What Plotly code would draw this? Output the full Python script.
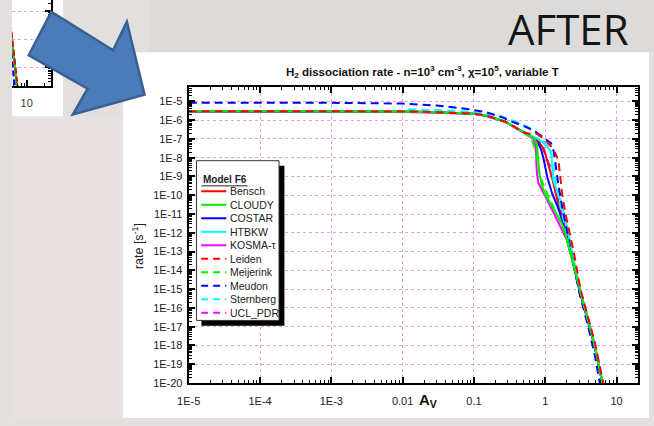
import plotly.graph_objects as go

W, H = 654, 426

# ---------------------------------------------------------------------------
# Data: H2 dissociation rate [s^-1] versus visual extinction A_V
# ---------------------------------------------------------------------------
models = ["Bensch", "CLOUDY", "COSTAR", "HTBKW", "KOSMA-τ",
          "Leiden", "Meijerink", "Meudon", "Sternberg", "UCL_PDR"]
colors = ["#ff0000", "#00ee00", "#0000ff", "#00ffff", "#ff00ff",
          "#ff0000", "#00ee00", "#0000ff", "#00ffff", "#ff00ff"]
dashed = [False, False, False, False, False, True, True, True, True, True]
# stacking order of the curves (last one on top)
draw_order = ["UCL_PDR", "KOSMA-τ", "Bensch", "COSTAR", "HTBKW", "Sternberg",
              "Meudon", "CLOUDY", "Meijerink", "Leiden"]

# unshielded plateau shared by most codes
plateau_av = [1e-5, 1e-4, 1e-3, 0.01, 0.03, 0.06, 0.1, 0.15, 0.2, 0.27, 0.34, 0.42, 0.5]
plateau_rate = [3.0e-6, 3.0e-6, 3.0e-6, 2.9e-6, 2.65e-6, 2.45e-6, 2.2e-6, 1.7e-6,
                1.25e-6, 8.5e-7, 5.2e-7, 3.3e-7, 2.2e-7]
kosma_plateau_rate = [2.75e-6, 2.75e-6, 2.75e-6, 2.7e-6, 2.5e-6, 2.35e-6, 2.1e-6, 1.65e-6,
                      1.2e-6, 8.2e-7, 5.0e-7, 3.2e-7, 2.1e-7]

bensch_av = [0.6, 0.7, 0.8, 0.9, 1.0, 1.1, 1.25, 1.4, 1.6, 1.8, 2.2, 3.0, 4.0, 4.9, 6.4, 7.0]
bensch_rate = [1.5e-7, 1.12e-7, 7.1e-8, 4.0e-8, 1.6e-8, 5.0e-9, 7.9e-10, 1.26e-10, 1.6e-11,
               2.2e-12, 1.1e-13, 1.0e-15, 2.0e-17, 1.0e-18, 8e-21, 1.3e-21]

cloudy_av = [0.6, 0.7, 0.76, 0.79, 0.83, 0.9, 1.0, 1.2, 1.5, 1.8, 2.2, 3.0, 4.0, 4.9, 6.4, 7.0]
cloudy_rate = [1.5e-7, 1.07e-7, 5.6e-8, 1.0e-8, 1.26e-9, 3.2e-10, 1.1e-10, 3.2e-11, 7.9e-12,
               2.0e-12, 1.1e-13, 1.1e-15, 2.2e-17, 1.1e-18, 8.9e-21, 1.4e-21]

costar_av = [0.6, 0.7, 0.8, 0.88, 0.95, 1.07, 1.25, 1.45, 1.65, 1.9, 2.3, 3.0, 4.0, 4.9, 6.4, 7.0]
costar_rate = [1.5e-7, 1.07e-7, 5.6e-8, 2.5e-8, 7.9e-9, 8.7e-10, 1.2e-10, 3.2e-11, 7.9e-12,
               1.26e-12, 7.9e-14, 8.9e-16, 1.8e-17, 1.0e-18, 8e-21, 1.3e-21]

htbkw_av = [0.6, 0.75, 0.9, 1.05, 1.2, 1.24, 1.3, 1.5, 1.69, 1.9, 2.2, 2.6, 3.2, 4.0, 5.0, 6.5, 7.0]
htbkw_rate = [1.6e-7, 1.12e-7, 7.1e-8, 4.0e-8, 2.2e-8, 5.0e-9, 6.3e-10, 1.26e-10, 3.5e-11,
              6.3e-12, 5.0e-13, 2.0e-14, 4.5e-16, 2.5e-17, 8.9e-19, 7.9e-21, 1.6e-21]

kosma_av = [0.6, 0.68, 0.72, 0.74, 0.76, 0.8, 0.87, 1.0, 1.32, 1.65, 2.0, 2.4, 3.0, 4.0, 4.9, 6.4, 7.0]
kosma_rate = [1.4e-7, 1.0e-7, 5.0e-8, 2.0e-8, 1.6e-9, 4.5e-10, 2.5e-10, 8.9e-11, 1.1e-11,
              1.9e-12, 4.2e-13, 4.0e-14, 1.1e-15, 2.2e-17, 1.1e-18, 8.9e-21, 1.4e-21]

leiden_av = [0.6, 0.78, 1.0, 1.2, 1.4, 1.53, 1.62, 1.72, 1.9, 2.09, 2.5, 3.1, 4.0, 5.0, 6.5, 7.0]
leiden_rate = [1.9e-7, 1.8e-7, 8.9e-8, 4.0e-8, 1.6e-8, 6.8e-9, 1.0e-9, 1.2e-10, 1.26e-11,
               2.1e-12, 1.0e-13, 1.1e-15, 2.8e-17, 1.26e-18, 1.0e-20, 2.0e-21]

meijerink_av = [0.55, 0.63, 0.7, 0.76, 0.85, 0.97, 1.2, 1.4, 1.7, 2.0, 2.4, 3.0, 4.0, 4.9, 6.4, 7.0]
meijerink_rate = [1.6e-7, 1.1e-7, 4.0e-8, 6.8e-9, 1.0e-9, 2.6e-10, 5.0e-11, 1.26e-11, 2.8e-12,
                  6.3e-13, 5.0e-14, 1.1e-15, 2.2e-17, 1.1e-18, 8.9e-21, 1.4e-21]

meudon_av = [1e-5, 1e-4, 1e-3, 0.01, 0.03, 0.085, 0.15, 0.25, 0.34, 0.5, 0.66, 0.85, 1.0,
             1.2, 1.32, 1.42, 1.55, 1.7, 2.0, 2.5, 3.0, 4.0, 5.0, 5.8, 6.4]
meudon_rate = [8.5e-6, 8.5e-6, 8.3e-6, 7.6e-6, 6.0e-6, 3.8e-6, 2.6e-6, 1.4e-6, 8.3e-7, 4.8e-7,
               3.0e-7, 1.6e-7, 1.0e-7, 6.0e-8, 2.0e-8, 2.5e-9, 2.5e-10, 3.2e-11, 1.26e-12,
               2.0e-14, 6.3e-16, 1.0e-17, 2.5e-19, 1.0e-20, 1.0e-21]

sternberg_av = [0.012, 0.03, 0.05, 0.085, 0.15, 0.22, 0.4, 0.55, 0.7, 0.87, 1.05, 1.19, 1.3,
                1.45, 1.6, 1.8, 2.2, 2.8, 3.5, 4.5, 5.5, 6.5, 7.0]
sternberg_rate = [3.8e-6, 3.6e-6, 3.2e-6, 2.8e-6, 2.2e-6, 1.8e-6, 7.9e-7, 4.8e-7, 3.0e-7,
                  1.1e-7, 5.0e-8, 2.7e-8, 4.0e-9, 2.5e-10, 3.2e-11, 5.0e-12, 1.8e-13, 3.2e-15,
                  1.26e-16, 4.0e-18, 1.6e-19, 7.9e-21, 1.6e-21]

ucl_av = [0.6, 0.8, 0.95, 1.02, 1.12, 1.25, 1.4, 1.55, 1.7, 2.1, 2.6, 3.1, 3.5, 3.7, 4.0,
          5.0, 6.4, 7.0]
ucl_rate = [1.6e-7, 8.9e-8, 3.2e-8, 1.2e-8, 5.0e-9, 2.0e-9, 1.6e-10, 3.2e-11, 1.0e-11,
            4.0e-13, 1.26e-14, 7.9e-16, 1.4e-16, 7.9e-17, 2.5e-17, 8.9e-19, 8.9e-21, 1.4e-21]

series = {
    "Bensch": (plateau_av + bensch_av, plateau_rate + bensch_rate),
    "CLOUDY": (plateau_av + cloudy_av, plateau_rate + cloudy_rate),
    "COSTAR": (plateau_av + costar_av, plateau_rate + costar_rate),
    "HTBKW": (plateau_av + htbkw_av, plateau_rate + htbkw_rate),
    "KOSMA-τ": (plateau_av + kosma_av, kosma_plateau_rate + kosma_rate),
    "Leiden": (plateau_av + leiden_av, plateau_rate + leiden_rate),
    "Meijerink": (plateau_av + meijerink_av, plateau_rate + meijerink_rate),
    "Meudon": (meudon_av, meudon_rate),
    "Sternberg": (sternberg_av, sternberg_rate),
    "UCL_PDR": (plateau_av + ucl_av, plateau_rate + ucl_rate),
}

x_tick_vals = [1e-5, 1e-4, 1e-3, 1e-2, 1e-1, 1, 10]
x_tick_text = ["1E-5", "1E-4", "1E-3", "0.01", "0.1", "1", "10"]
y_tick_vals = [1e-5, 1e-6, 1e-7, 1e-8, 1e-9, 1e-10, 1e-11, 1e-12, 1e-13, 1e-14,
               1e-15, 1e-16, 1e-17, 1e-18, 1e-19, 1e-20]
y_tick_text = ["1E-5", "1E-6", "1E-7", "1E-8", "1E-9", "1E-10", "1E-11", "1E-12",
               "1E-13", "1E-14", "1E-15", "1E-16", "1E-17", "1E-18", "1E-19", "1E-20"]


def fx(px):
    return px / W


def fy(py):
    return 1 - py / H


FONT = "Liberation Sans, Arial, sans-serif"
GRID = "#dea0de"

style = {m: (c, d) for m, c, d in zip(models, colors, dashed)}

fig = go.Figure()

# main chart and the small cut-off panel in the upper-left corner
for xa, ya, dash_pat in (("x", "y", "8px,5px"), ("x2", "y2", "6px,3px")):
    for name in draw_order:
        color, dash = style[name]
        av, rate = series[name]
        fig.add_trace(go.Scatter(
            x=av, y=rate, mode="lines", name=name, showlegend=False,
            line=dict(color=color, width=2, dash=dash_pat if dash else "solid"),
            xaxis=xa, yaxis=ya))

axis_common = dict(
    showline=True, linewidth=2, linecolor="black", mirror="allticks",
    ticks="inside", ticklen=6, tickwidth=1.5, tickcolor="black",
    minor=dict(ticks="inside", ticklen=3, tickwidth=1, tickcolor="black",
               dtick="D1", showgrid=False),
    showgrid=True, gridcolor=GRID, griddash="dot", gridwidth=1,
    zeroline=False, tickfont=dict(family=FONT, size=11, color="#222"),
)

fig.update_layout(
    width=W, height=H, autosize=False,
    margin=dict(l=0, r=0, t=0, b=0),
    paper_bgcolor="#e3dfdf", plot_bgcolor="white",
    xaxis=dict(type="log", range=[-5, 1.3], domain=[fx(180), fx(637.7)],
               anchor="y", tickmode="array", tickvals=x_tick_vals, ticktext=x_tick_text,
               ticklabelstandoff=7, **axis_common),
    yaxis=dict(type="log", range=[-20, -4.24], domain=[fy(388.5), fy(88.3)],
               anchor="x", tickmode="array", tickvals=y_tick_vals, ticktext=y_tick_text,
               ticklabelstandoff=2, **axis_common),
    xaxis2=dict(type="log", range=[0.75, 1.405], domain=[0, fx(39.3)], anchor="y2",
                showline=True, linewidth=2, linecolor="black", ticks="inside",
                ticklen=6, tickwidth=1.5, tickcolor="black",
                minor=dict(ticks="inside", ticklen=3, tickwidth=1, tickcolor="black",
                           dtick="D1"),
                tickmode="array", tickvals=[10], ticktext=["10"], showgrid=False,
                ticklabelstandoff=5,
                zeroline=False, tickfont=dict(family=FONT, size=11, color="#333")),
    yaxis2=dict(type="log", range=[-20.685, -17.59], domain=[fy(87.7), 1], anchor="x2",
                side="right", showline=True, linewidth=2, linecolor="black",
                ticks="inside", ticklen=6, tickwidth=1.5, tickcolor="black",
                minor=dict(ticks="inside", ticklen=3, tickwidth=1, tickcolor="black",
                           dtick="D1"),
                dtick=1, showticklabels=False, showgrid=True, gridcolor=GRID,
                griddash="dot", zeroline=False),
)

shapes = [
    # slide background tints and white chart panels
    dict(type="rect", xref="paper", yref="paper", x0=0, x1=fx(113), y0=0, y1=fy(118),
         fillcolor="#e9e0e0", line=dict(width=0), layer="below"),
    dict(type="rect", xref="paper", yref="paper", x0=fx(140), x1=1, y0=fy(53), y1=1,
         fillcolor="#dddbda", line=dict(width=0), layer="below"),
    dict(type="rect", xref="paper", yref="paper", x0=fx(113), x1=fx(649), y0=fy(424),
         y1=fy(53), fillcolor="white", line=dict(width=0), layer="below"),
    dict(type="rect", xref="paper", yref="paper", x0=0, x1=fx(52), y0=fy(118), y1=1,
         fillcolor="white", line=dict(width=0), layer="below"),
    # legend frame with drop shadow
    dict(type="rect", xref="paper", yref="paper", x0=fx(193), x1=fx(277.5), y0=fy(330.5),
         y1=fy(168), fillcolor="black", line=dict(width=0)),
    dict(type="rect", xref="paper", yref="paper", x0=fx(188), x1=fx(272), y0=fy(325),
         y1=fy(163), fillcolor="white", line=dict(color="#333", width=1)),
    dict(type="line", xref="paper", yref="paper", x0=fx(193), x1=fx(240), y0=fy(188.5),
         y1=fy(188.5), line=dict(color="#222", width=1)),
]

annotations = [
    dict(text="<b>H<sub>2</sub> dissociation rate - n=10<sup>3</sup> cm<sup>-3</sup>, "
              "χ=10<sup>5</sup>, variable T</b>",
         x=fx(418), y=fy(73), xref="paper", yref="paper", showarrow=False,
         xanchor="center", yanchor="middle", font=dict(family=FONT, size=11.5, color="#111")),
    dict(text="<b>A<sub>V</sub></b>", x=fx(424), y=fy(406), xref="paper", yref="paper",
         showarrow=False, xanchor="center", yanchor="middle",
         font=dict(family=FONT, size=15, color="#111")),
    dict(text="rate [s<sup>-1</sup>]", x=fx(129), y=fy(250), xref="paper", yref="paper",
         showarrow=False, textangle=-90, xanchor="center", yanchor="middle",
         font=dict(family=FONT, size=12.5, color="#222")),
    dict(text="<b>Model F6</b>", x=fx(192.5), y=fy(182.5), xref="paper", yref="paper",
         showarrow=False, xanchor="left", yanchor="middle",
         font=dict(family=FONT, size=10, color="#222")),
    dict(text="AFTER", x=fx(567), y=fy(29), xref="paper", yref="paper", showarrow=False,
         xanchor="center", yanchor="middle",
         font=dict(family="Open Sans, sans-serif", size=42, color="#151515")),
]

row0, step = 194.0, 13.7
for i, name in enumerate(models):
    color, dash = style[name]
    ry = row0 + i * step
    shapes.append(dict(type="line", xref="paper", yref="paper", x0=fx(192.7), x1=fx(218.3),
                       y0=fy(ry), y1=fy(ry),
                       line=dict(color=color, width=2, dash="7px,5px" if dash else "solid")))
    annotations.append(dict(text=name, x=fx(220.5), y=fy(ry), xref="paper", yref="paper",
                            showarrow=False, xanchor="left", yanchor="middle",
                            font=dict(family=FONT, size=10.5, color="#222")))

# big blue arrow pointing at the chart
arrow_pts = [(17, 56), (40, 12), (103, 51), (117, 22), (135, 96), (62, 116), (77, 90)]
path = "M " + " L ".join(f"{fx(px):.5f},{fy(py):.5f}" for px, py in arrow_pts) + " Z"
shapes.append(dict(type="path", xref="paper", yref="paper", path=path,
                   fillcolor="#4a7cba", line=dict(color="#3a6090", width=2.5)))

fig.update_layout(shapes=shapes, annotations=annotations)
fig.write_html("out.html")
